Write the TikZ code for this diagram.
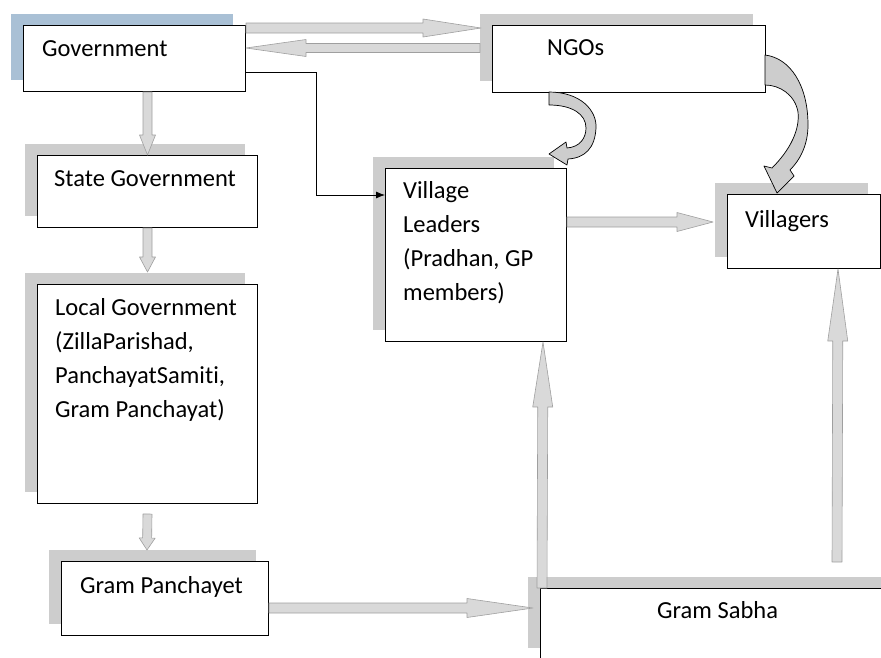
\documentclass[tikz,border=0pt]{standalone}
\usepackage{fontspec}
\setmainfont{Carlito}[Ligatures=NoCommon]
\usetikzlibrary{arrows.meta, positioning, calc, shadows}

\definecolor{govshade}{RGB}{169,192,213}
\definecolor{boxshade}{RGB}{205,205,205}

\tikzset{
  plainbox/.style={draw=black, fill=white, line width=1pt, anchor=north west, inner sep=0pt},
  box/.style={plainbox, general shadow={fill=boxshade, shadow xshift=-13pt, shadow yshift=12pt}},
  govbox/.style={plainbox, general shadow={fill=govshade, shadow xshift=-13pt, shadow yshift=12pt}},
  txt/.style={anchor=base west, inner sep=0pt, align=left, font=\fontsize{24.5}{34}\selectfont},
  blockarrow/.style={fill=gray!30, draw=gray!75, line width=0.6pt, line join=round},
  curvearrow/.style={fill=boxshade, draw=black, line width=0.7pt, line join=round},
  link/.style={draw=black, line width=0.8pt, -{Latex[length=9pt,width=7pt]}}
}

% shaft half width, head half width, head length, from, to
\newcommand{\blockarrow}[5]{%
  \coordinate (ba-h) at ($(#5)!#3!(#4)$);
  \path[blockarrow] ($(#4)!#1!90:(#5)$) -- ($(ba-h)!#1!90:(#5)$) -- ($(ba-h)!#2!90:(#5)$)
    -- (#5) -- ($(ba-h)!#2!-90:(#5)$) -- ($(ba-h)!#1!-90:(#5)$) -- ($(#4)!#1!-90:(#5)$) -- cycle;
}

\begin{document}
\begin{tikzpicture}[x=1pt, y=-1pt]
  \useasboundingbox (0,0) rectangle (881,657);
  \clip (0,0) rectangle (881,657);

  % boxes
  \node[govbox, minimum width=222pt, minimum height=66pt] (gov) at (23,25) {};
  \node[box, minimum width=273pt, minimum height=67pt] (ngo) at (492,25) {};
  \node[box, minimum width=220pt, minimum height=72pt] (state) at (37,155) {};
  \node[box, minimum width=220pt, minimum height=219pt] (local) at (37,284) {};
  \node[box, minimum width=207pt, minimum height=74pt] (gp) at (61,561) {};
  \node[box, minimum width=181pt, minimum height=173pt] (vl) at (385,168) {};
  \node[box, minimum width=153pt, minimum height=74pt] (vil) at (727,194) {};
  \node[box, draw=none, minimum width=400pt, minimum height=71pt] (gs) at (540,588) {};
  \draw[line width=1pt] (gs.south west) -- (gs.north west) -- (gs.north east);

  % texts (multi-line ones sit on their last baseline)
  \node[txt] (govtxt) at (42,56) {Government};
  \node[txt] (ngotxt) at (547,55) {NGOs};
  \node[txt] (statetxt) at (54,186) {State Government};
  \node[txt] (localtxt) at (55,417) {Local Government\\(ZillaParishad,\\PanchayatSamiti,\\Gram Panchayat)};
  \node[txt] (gptxt) at (80,593) {Gram Panchayet};
  \node[txt] (vltxt) at (403,300) {Village\\Leaders\\(Pradhan, GP\\members)};
  \node[txt] (viltxt) at (745,227) {Villagers};
  \node[txt] (gstxt) at (657,618) {Gram Sabha};

  % arrow ends
  \coordinate (gov-out) at ([yshift=-3pt]gov.north east);
  \coordinate (ngo-in) at ([shift={(-11pt,-3pt)}]ngo.north west);
  \coordinate (ngo-out) at ([shift={(-12pt,-23pt)}]ngo.north west);
  \coordinate (gov-in) at ([yshift=-23pt]gov.north east);
  \coordinate (gov-down) at (gov.south -| state.north);
  \coordinate (local-in) at ([yshift=12pt]local.north);
  \coordinate (local-out) at ([yshift=-10pt]local.south);
  \coordinate (gp-in) at (147,550);
  \coordinate (vl-out) at ([yshift=-54pt]vl.north east);
  \coordinate (vil-in) at ([shift={(-14pt,-28pt)}]vil.north west);
  \coordinate (gp-out) at ([yshift=-47pt]gp.north east);
  \coordinate (gs-in) at ([shift={(-7pt,-20pt)}]gs.north west);
  \coordinate (gs-up) at ([xshift=2pt]gs.north west);
  \coordinate (vl-in) at ([xshift=-24pt]vl.south east);
  \coordinate (vil-up) at (837,562);
  \coordinate (vil-below) at ([xshift=-43pt]vil.south east);

  % block arrows
  \blockarrow{5pt}{9pt}{58pt}{gov-out}{ngo-in}
  \blockarrow{4.5pt}{8.5pt}{60pt}{ngo-out}{gov-in}
  \blockarrow{4.5pt}{8pt}{20pt}{gov-down}{state.north}
  \blockarrow{4.5pt}{8pt}{15pt}{state.south}{local-in}
  \blockarrow{4.5pt}{8pt}{12pt}{local-out}{gp-in}
  \blockarrow{5pt}{9.5pt}{36pt}{vl-out}{vil-in}
  \blockarrow{5pt}{9.5pt}{66pt}{gp-out}{gs-in}
  \blockarrow{5pt}{10pt}{65pt}{gs-up}{vl-in}
  \blockarrow{5pt}{10pt}{72pt}{vil-up}{vil-below}

  % Government to village leaders
  \draw[link] ([yshift=-47pt]gov.north east) -- ++(70pt,0) |- ([yshift=-27pt]vl.north west);

  % curved arrows from NGOs
  \path[curvearrow] (549,92) .. controls (580,92) and (597,110) .. (596,128)
    .. controls (595,148) and (585,158) .. (568,159) -- (567,165) -- (549,154) -- (566,142)
    -- (567,148) .. controls (580,147) and (586,138) .. (586,128)
    .. controls (586,114) and (572,105) .. (549,105) -- cycle;
  \path[curvearrow] (765,55) .. controls (790,58) and (808,85) .. (808,125)
    .. controls (808,145) and (800,160) .. (790,170) -- (794,176) -- (777,193) -- (764,166)
    -- (772,168) .. controls (790,150) and (800,130) .. (798,112)
    .. controls (795,95) and (780,85) .. (765,85) -- cycle;
\end{tikzpicture}
\end{document}
